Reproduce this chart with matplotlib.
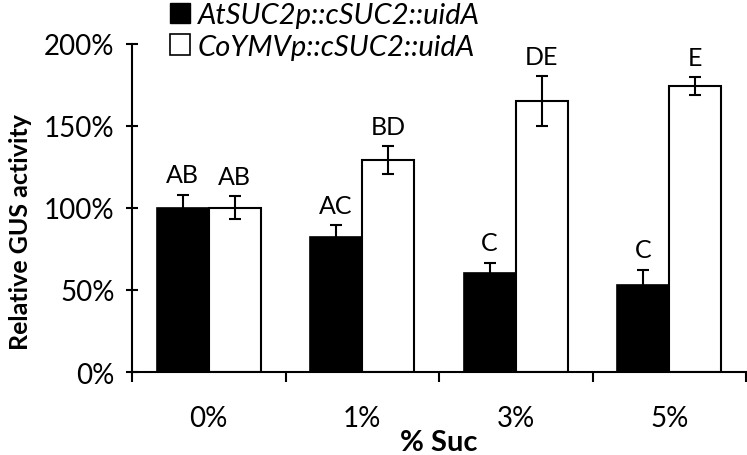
import matplotlib
matplotlib.use("Agg")
import matplotlib.pyplot as plt
import numpy as np
from matplotlib.patches import Patch
from matplotlib.ticker import FixedLocator

plt.rcParams['font.family'] = ['Lato', 'DejaVu Sans']

categories = ['0%', '1%', '3%', '5%']
series_names = ['AtSUC2p::cSUC2::uidA', 'CoYMVp::cSUC2::uidA']
at_values = [100, 82, 60, 53]
at_err = [8, 7.5, 6.5, 9.3]
co_values = [100, 129, 165, 174]
co_err = [7, 8.5, 15, 5.5]
at_letters = ['AB', 'AC', 'C', 'C']
co_letters = ['AB', 'BD', 'DE', 'E']
yticks = [0, 50, 100, 150, 200]
ytick_labels = ['0%', '50%', '100%', '150%', '200%']

fig = plt.figure(figsize=(7.47, 4.56), dpi=100)
ax = fig.add_axes([0.1767, 0.182, 0.822, 0.7204])

x = np.arange(len(categories))
w = 0.34
ax.bar(x - w/2, at_values, w, color='black', edgecolor='black', linewidth=1.2, zorder=2)
ax.bar(x + w/2, co_values, w, color='white', edgecolor='black', linewidth=1.5, zorder=2)
ax.errorbar(x - w/2, at_values, yerr=at_err, fmt='none', ecolor='black', elinewidth=1.5, capsize=4.5, capthick=1.5, zorder=3)
ax.errorbar(x + w/2, co_values, yerr=co_err, fmt='none', ecolor='black', elinewidth=1.5, capsize=4.5, capthick=1.5, zorder=3)

for xi, v, e, t in zip(x - w/2, at_values, at_err, at_letters):
    ax.annotate(t, (xi, v + e), xytext=(0, 6), textcoords='offset points', ha='center', va='bottom', fontsize=18)
for xi, v, e, t in zip(x + w/2, co_values, co_err, co_letters):
    ax.annotate(t, (xi, v + e), xytext=(0, 6), textcoords='offset points', ha='center', va='bottom', fontsize=18)

ax.set_xlim(-0.5, len(categories) - 0.5)
ax.set_ylim(0, 200)
ax.set_yticks(yticks)
ax.set_yticklabels(ytick_labels, fontsize=20)
ax.tick_params(axis='y', direction='inout', length=9, width=1.5, pad=8)

ax.set_xticks(np.arange(len(categories) + 1) - 0.5)
ax.set_xticklabels([])
ax.xaxis.set_minor_locator(FixedLocator(x))
ax.set_xticks(x, minor=True)
ax.set_xticklabels(categories, minor=True, fontsize=20)
ax.tick_params(axis='x', which='major', direction='out', length=7, width=1.5)
ax.tick_params(axis='x', which='minor', length=0, pad=24)

for s in ['top', 'right']:
    ax.spines[s].set_visible(False)
for s in ['left', 'bottom']:
    ax.spines[s].set_linewidth(1.5)

ax.set_ylabel('Relative GUS activity', fontsize=18, fontweight='bold')
ax.yaxis.set_label_coords(-0.163, 0.43)
ax.set_xlabel('% Suc', fontsize=21, fontweight='bold', labelpad=-2)

handles = [Patch(facecolor='black', edgecolor='black'),
           Patch(facecolor='white', edgecolor='black', linewidth=1.2)]
leg = fig.legend(handles, series_names, loc='upper left', bbox_to_anchor=(170/747, 1 - 3/456),
                 frameon=False, prop={'style': 'italic', 'size': 21},
                 handlelength=0.7, handleheight=0.7, handletextpad=0.25, labelspacing=0.2,
                 borderpad=0, borderaxespad=0)

fig.savefig('out.png', dpi=100)
